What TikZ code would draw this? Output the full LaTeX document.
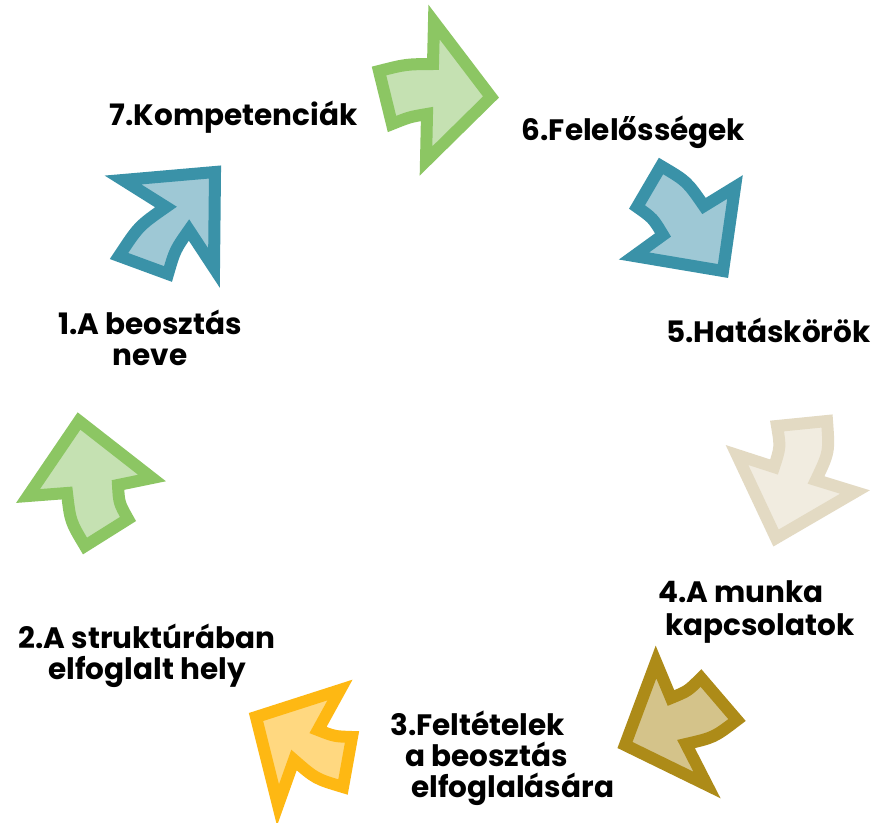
\documentclass[tikz,border=0pt]{standalone}
\usepackage{fontspec}
\setmainfont{Poppins}
\definecolor{grnS}{RGB}{140,198,99}
\definecolor{grnF}{RGB}{197,225,178}
\definecolor{tealS}{RGB}{58,146,168}
\definecolor{tealF}{RGB}{158,200,213}
\definecolor{beiS}{RGB}{227,218,195}
\definecolor{beiF}{RGB}{241,236,224}
\definecolor{oliS}{RGB}{173,139,24}
\definecolor{oliF}{RGB}{212,195,138}
\definecolor{yelS}{RGB}{254,184,19}
\definecolor{yelF}{RGB}{255,216,128}
\tikzset{
  arr/.style={line width=12pt, line join=miter, miter limit=10},
  grnarr/.style={arr, draw=grnS, fill=grnF},
  tealarr/.style={arr, draw=tealS, fill=tealF},
  beiarr/.style={arr, draw=beiS, fill=beiF},
  oliarr/.style={arr, draw=oliS, fill=oliF},
  yelarr/.style={arr, draw=yelS, fill=yelF},
  lbl/.style={font=\bfseries\fontsize{29.5}{31}\selectfont, inner sep=0pt, anchor=base}
}
\begin{document}
\begin{tikzpicture}[x=1pt, y=-1pt]
\useasboundingbox[fill=white] (0,0) rectangle (880,822);
% arrow 1 top green
\draw[grnarr] (379,71) .. controls (406,64.2) .. (433,64) -- (434,22) -- (491,97) -- (426,161) -- (427,114) .. controls (409.5,117) .. (392,124) -- cycle;
% arrow 2 teal right
\draw[tealarr] (661,166) .. controls (686.9,181.3) .. (704,206) -- (735,187) -- (723,271) -- (634,256) -- (663,235) .. controls (653,218.3) .. (637,207) -- cycle;
% arrow 3 beige
\draw[beiarr] (827,421) .. controls (829.3,452) .. (816,480) -- (855,492) -- (776,538) -- (737,455) -- (774,467) .. controls (780.5,447) .. (777,426) -- cycle;
% arrow 4 olive
\draw[oliarr] (737,720) .. controls (714,737.5) .. (686,744) -- (707,785) -- (625,745) -- (656,662) -- (671,698) .. controls (688,691) .. (701,678) -- cycle;
% arrow 5 yellow
\draw[yelarr] (343,787) .. controls (315.6,778.8) .. (294,760) -- (278,805) -- (256,717) -- (340,690) -- (318,730) .. controls (334.4,736.4) .. (352,737) -- cycle;
% arrow 6 green left
\draw[grnarr] (85,546) .. controls (70.3,521.4) .. (67,493) -- (28,496) -- (79,421) -- (152,478) -- (118,485) .. controls (119,503) .. (128,519) -- cycle;
% arrow 7 teal left
\draw[tealarr] (119,256) .. controls (138.8,226) .. (166,207) -- (123,180) -- (215,172) -- (214,268) -- (189,230) .. controls (175,250) .. (168,274) -- cycle;
% labels
\node[lbl] (t7) at (233.5,125) {7.Kompetenciák};
\node[lbl] (t6) at (633.5,140) {6.Felelősségek};
\node[lbl] (t5) at (768.5,342) {5.Hatáskörök};
\node[lbl, align=left, anchor=base west] (t4) at (658,635) {4.A munka\\[2pt]\hspace*{7pt}kapcsolatok};
\node[lbl, align=left, anchor=base west] (t3) at (390,797) {3.Feltételek\\\hspace*{15pt}a beosztás\\\hspace*{21pt}elfoglalására};
\node[lbl, align=center] (t2) at (147,679) {2.A struktúrában\\elfoglalt hely};
\node[lbl, align=center] (t1) at (150,365) {1.A beosztás\\neve};
\end{tikzpicture}
\end{document}
